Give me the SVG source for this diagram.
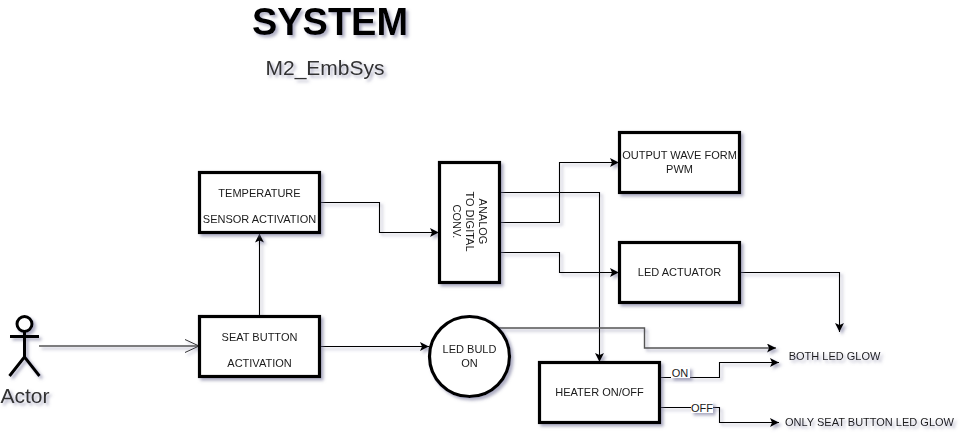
<svg xmlns="http://www.w3.org/2000/svg" width="971" height="444" viewBox="0 0 971 444">
<style>
text{font-family:"Liberation Sans",Arial,sans-serif;fill:#1a1a1a;text-anchor:middle}
.box{fill:#fff;stroke:#000;stroke-width:3.2}
.t{font-size:11px}
.c{fill:none;stroke:#000;stroke-width:1.100}
.g{fill:none;stroke:#555;stroke-width:1.400}
.lb{fill:#fff}
</style>
<defs>
<filter id="sh" x="-20%" y="-20%" width="150%" height="150%"><feDropShadow dx="2.500" dy="2.500" stdDeviation="1.500" flood-color="#6a6a90" flood-opacity="0.55"/></filter>
<marker id="a" markerUnits="userSpaceOnUse" markerWidth="11" markerHeight="10" refX="9" refY="4.500" orient="auto"><path d="M0 0L9 4.500L0 9L2 4.500Z" fill="#000"/></marker>
<marker id="o" markerUnits="userSpaceOnUse" markerWidth="16" markerHeight="16" refX="14" refY="7" orient="auto"><path d="M0 0.500L14 7L0 13.500" fill="none" stroke="#333" stroke-width="1"/></marker>
</defs>
<g id="title" filter="url(#sh)">
<text x="330" y="35" font-size="38" font-weight="bold" style="fill:#000">SYSTEM</text>
<text x="325" y="75" font-size="21" style="fill:#333">M2_EmbSys</text>
</g>
<g id="connectors" filter="url(#sh)">
<path class="g" d="M39 346H199" marker-end="url(#o)"/>
<path class="c" d="M259.500 316V233.500" marker-end="url(#a)"/>
<path class="c" d="M320 346.500H429" marker-end="url(#a)"/>
<path class="c" d="M320 202.500H379.500V232.500H439" marker-end="url(#a)"/>
<path class="c" d="M500 222.500H559.500V162.500H619" marker-end="url(#a)"/>
<path class="c" d="M500 252.500H559.500V272.500H619" marker-end="url(#a)"/>
<path class="c" d="M500 192.500H599.500V362" marker-end="url(#a)"/>
<path class="c" d="M740 272.500H839.500V332" marker-end="url(#a)"/>
<path class="g" d="M499 328H644.500V348H776" marker-end="url(#a)"/>
<path class="c" d="M660 377.500H719.500V362.500H779" marker-end="url(#a)"/>
<path class="c" d="M660 407.500H719.500V422.500H779" marker-end="url(#a)"/>
</g>
<g id="actor" filter="url(#sh)">
<g fill="none" stroke="#000" stroke-width="3"><circle cx="24.500" cy="324" r="7.500" fill="#fff"/><path d="M24.500 332V357M10 336.500H39M24.500 357L9.500 376M24.500 357L39.500 376"/></g>
<text x="25" y="403" font-size="21" style="fill:#333">Actor</text>
</g>
<g id="seat" filter="url(#sh)"><rect class="box" x="199.500" y="316.500" width="120" height="60"/><text class="t" x="259.500" y="341">SEAT BUTTON</text><text class="t" x="259.500" y="367">ACTIVATION</text></g>
<g id="temp" filter="url(#sh)"><rect class="box" x="199.500" y="172.500" width="120" height="60"/><text class="t" x="259.500" y="197">TEMPERATURE</text><text class="t" x="259.500" y="223">SENSOR ACTIVATION</text></g>
<g id="adc" filter="url(#sh)"><rect class="box" x="439.500" y="162.500" width="60" height="120"/><text class="t" transform="translate(465.500 221.500) rotate(90)"><tspan x="0" y="-13">ANALOG</tspan><tspan x="0" y="0">TO DIGITAL</tspan><tspan x="0" y="13">CONV.</tspan></text></g>
<g id="pwm" filter="url(#sh)"><rect class="box" x="619.500" y="132.500" width="120" height="60"/><text class="t" x="679.500" y="159">OUTPUT WAVE FORM</text><text class="t" x="679.500" y="173">PWM</text></g>
<g id="act" filter="url(#sh)"><rect class="box" x="619.500" y="242.500" width="120" height="60"/><text class="t" x="679.500" y="276">LED ACTUATOR</text></g>
<g id="bulb" filter="url(#sh)"><circle class="box" cx="469.500" cy="356.500" r="40"/><text class="t" x="469.500" y="353">LED BULD</text><text class="t" x="469.500" y="367">ON</text></g>
<g id="heater" filter="url(#sh)"><rect class="box" x="539.500" y="362.500" width="120" height="60"/><text class="t" x="599.500" y="396">HEATER ON/OFF</text></g>
<g id="labels">
<g filter="url(#sh)"><rect class="lb" x="671" y="367" width="19" height="11"/><rect class="lb" x="691" y="402" width="22" height="11"/></g>
<text class="t" x="680" y="377">ON</text><text class="t" x="702" y="412">OFF</text>
</g>
<g id="both" filter="url(#sh)"><text font-size="11" x="834.500" y="360">BOTH LED GLOW</text></g>
<g id="only" filter="url(#sh)"><text font-size="11" x="869.500" y="426">ONLY SEAT BUTTON LED GLOW</text></g>
</svg>
